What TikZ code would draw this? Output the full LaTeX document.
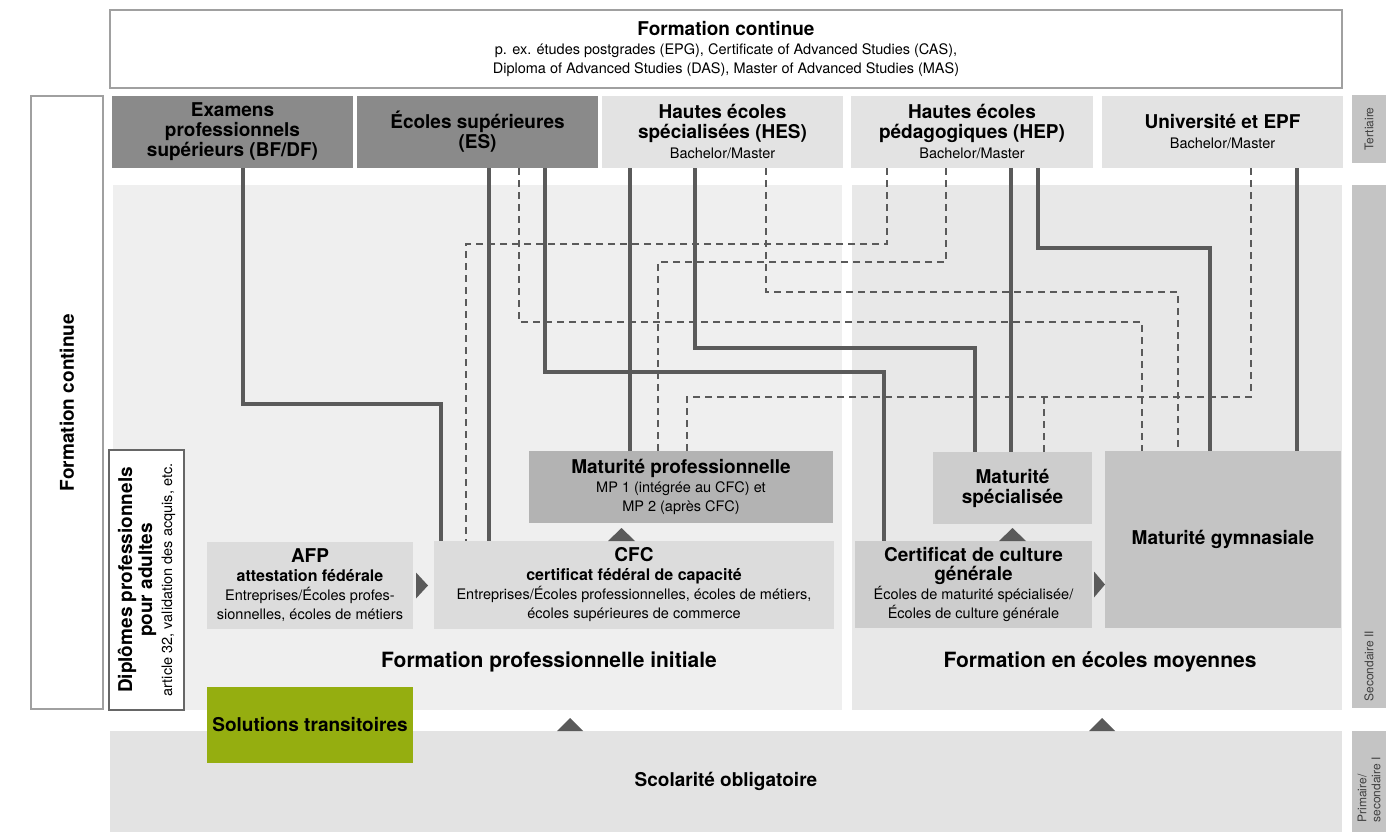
\documentclass[tikz,border=0pt]{standalone}
\usepackage{fontspec}
\setmainfont{TeX Gyre Heros}
\usetikzlibrary{positioning}

\definecolor{darkbox}{HTML}{8A8A8A}
\definecolor{lightbox}{HTML}{E3E3E3}
\definecolor{levelbox}{HTML}{C4C4C4}
\definecolor{leftpanel}{HTML}{EFEFEF}
\definecolor{rightpanel}{HTML}{E8E8E8}
\definecolor{certbox}{HTML}{DCDCDC}
\definecolor{mpbox}{HTML}{B3B3B3}
\definecolor{ccgbox}{HTML}{CDCDCD}
\definecolor{linegray}{HTML}{5A5A5A}
\definecolor{framegray}{HTML}{A0A0A0}
\definecolor{olivebox}{HTML}{95AE10}

\newcommand{\boxtitle}{\fontsize{19}{20}\selectfont\bfseries}
\newcommand{\boxsub}{\fontsize{16}{19}\selectfont\bfseries}
\newcommand{\boxtext}{\fontsize{14.5}{19}\selectfont\mdseries}
\newcommand{\paneltitle}{\fontsize{21}{24}\selectfont\bfseries}
\newcommand{\levelfont}{\fontsize{12}{14}\selectfont}

\begin{document}
\begin{tikzpicture}
    [x=1pt, y=-1pt,
    box/.style={anchor=north west, inner sep=0pt, outer sep=0pt, align=center},
    conn/.style={draw=linegray, line width=4pt},
    dashconn/.style={draw=linegray, line width=1.5pt, dash pattern=on 7pt off 5pt},
    tri/.style={fill=linegray},
    levellabel/.style={rotate=90, font=\levelfont, text=black!75, align=left}]

    \useasboundingbox (0,0) rectangle (1392,832);

    % backgrounds
    \node[box, draw=framegray, line width=1.5pt, fill=white, minimum width=1232, minimum height=78, font=\boxtext] (fc) at (110,10)
    {{\boxtitle Formation continue}\\p. ex. études postgrades (EPG), Certificate of Advanced Studies (CAS),\\Diploma of Advanced Studies (DAS), Master of Advanced Studies (MAS)};
    \node[box, draw=framegray, line width=1.5pt, minimum width=72, minimum height=613] (fcside) at (31,96) {};
    \node[rotate=90, font=\boxtitle] (fcsidelabel) at (fcside.center) {Formation continue};

    \node[box, fill=leftpanel, minimum width=729, minimum height=525] (vocpanel) at (113,185) {};
    \node[box, fill=rightpanel, minimum width=490, minimum height=525] (genpanel) at (852,185) {};

    \node[box, fill=levelbox, minimum width=34, minimum height=68] (tert) at (1352,95) {};
    \node[box, fill=levelbox, minimum width=34, minimum height=523] (sec) at (1352,185) {};
    \node[box, fill=levelbox, minimum width=34, minimum height=101] (prim) at (1352,731) {};
    \node[levellabel] (tertlabel) at (tert.center) {Tertiaire};
    \node[levellabel, anchor=west] (seclabel) at ([yshift=3]sec.south) {Secondaire II};
    \node[levellabel, anchor=west] (primlabel) at ([yshift=6]prim.south) {Primaire/\\secondaire I};

    % tertiaire
    \node[box, fill=darkbox, minimum width=241, minimum height=72, font=\boxtitle] (bfdf) at (112,96) {Examens\\professionnels\\supérieurs (BF/DF)};
    \node[box, fill=darkbox, minimum width=241, minimum height=72, font=\boxtitle] (es) at (357,96) {Écoles supérieures\\(ES)};
    \node[box, fill=lightbox, minimum width=241, minimum height=72, font=\boxtitle] (hes) at (602,96) {Hautes écoles\\spécialisées (HES)\\{\boxtext Bachelor/Master}};
    \node[box, fill=lightbox, minimum width=242, minimum height=72, font=\boxtitle] (hep) at (851,96) {Hautes écoles\\pédagogiques (HEP)\\{\boxtext Bachelor/Master}};
    \node[box, fill=lightbox, minimum width=241, minimum height=72, font=\boxtitle] (uni) at (1102,96) {Université et EPF\\{\boxtext Bachelor/Master}};

    % secondaire II
    \node[box, fill=certbox, minimum width=206, minimum height=87, font=\boxtext] (afp) at (207,542)
    {{\boxtitle AFP}\\{\boxsub attestation fédérale}\\Entreprises/Écoles profes-\\sionnelles, écoles de métiers};
    \node[box, fill=certbox, minimum width=400, minimum height=88, font=\boxtext] (cfc) at (434,541)
    {{\boxtitle CFC}\\{\boxsub certificat fédéral de capacité}\\Entreprises/Écoles professionnelles, écoles de métiers,\\écoles supérieures de commerce};
    \node[box, fill=mpbox, minimum width=304, minimum height=72, font=\boxtext] (mp) at (529,451)
    {{\boxtitle Maturité professionnelle}\\MP 1 (intégrée au CFC) et\\MP 2 (après CFC)};
    \node[box, fill=ccgbox, minimum width=237, minimum height=87, font=\boxtext] (ccg) at (855,541)
    {{\boxtitle Certificat de culture}\\{\boxtitle générale}\\Écoles de maturité spécialisée/\\Écoles de culture générale};
    \node[box, fill=ccgbox, minimum width=159, minimum height=72, font=\boxtitle] (ms) at (933,452) {Maturité\\spécialisée};
    \node[box, fill=levelbox, minimum width=236, minimum height=177, font=\boxtitle] (mg) at (1105,451) {Maturité gymnasiale};

    \node[draw=black!60, line width=2pt, fill=white, rotate=90, inner sep=0pt, minimum width=260, minimum height=75, align=center, font=\boxtitle] (adult) at (146.5,580)
    {Diplômes professionnels\\pour adultes\\{\boxtext article 32, validation des acquis, etc.}};

    \node[font=\paneltitle] (voclabel) at (549,662) {Formation professionnelle initiale};
    \node[font=\paneltitle] (genlabel) at (1100,662) {Formation en écoles moyennes};

    % passages
    \draw[conn] ([xshift=10.5]bfdf.south) -- ++(0,236) -| ([xshift=-193]cfc.north);
    \draw[conn] ([xshift=11.5]es.south) -- ([xshift=-145]cfc.north);
    \draw[conn] ([xshift=67.5]es.south) -- ++(0,204) -| ([xshift=-89.5]ccg.north);
    \draw[conn] ([xshift=-92.5]hes.south) -- ([xshift=-51]mp.north);
    \draw[conn] ([xshift=-27.5]hes.south) -- ++(0,180) -| ([xshift=-37.5]ms.north);
    \draw[conn] ([xshift=39]hep.south) -- ([xshift=-1.5]ms.north);
    \draw[conn] ([xshift=66]hep.south) -- ++(0,80) -| ([xshift=-13]mg.north);
    \draw[conn] ([xshift=74.5]uni.south) -- ([xshift=74]mg.north);

    \draw[dashconn] ([xshift=41.5]es.south) -- ++(0,154) -| ([xshift=-81]mg.north);
    \draw[dashconn] ([xshift=43.5]hes.south) -- ++(0,124) -| ([xshift=-45]mg.north);
    \draw[dashconn] ([xshift=-85]hep.south) -- ++(0,76) -| ([xshift=-168]cfc.north);
    \draw[dashconn] ([xshift=-26]hep.south) -- ++(0,94) -| ([xshift=-23]mp.north);
    \draw[dashconn] ([xshift=28.5]uni.south) -- ++(0,229) -| ([xshift=6]mp.north);
    \draw[dashconn] ([xshift=31.5]ms.north) -- ++(0,-55);

    \fill[tri] ([xshift=3,yshift=13]afp.east) -- ++(12,13) -- ++(-12,13) -- cycle;
    \fill[tri] ([xshift=2,yshift=13]ccg.east) -- ++(11,13) -- ++(-11,13) -- cycle;
    \fill[tri] ([xshift=-26]cfc.north) -- ++(13.5,-13) -- ++(13.5,13) -- cycle;
    \fill[tri] ([xshift=25.5]ccg.north) -- ++(13.5,-13) -- ++(13.5,13) -- cycle;

    % scolarite obligatoire
    \node[box, fill=lightbox, minimum width=1232, minimum height=101, font=\boxtitle] (school) at (110,731) {Scolarité obligatoire};
    \node[box, fill=olivebox, minimum width=206, minimum height=76, font=\boxtitle] (trans) at (207,687) {Solutions transitoires};

    \fill[tri] ([xshift=-169]school.north) -- ++(13,-13) -- ++(13,13) -- cycle;
    \fill[tri] ([xshift=363]school.north) -- ++(13,-13) -- ++(13,13) -- cycle;
\end{tikzpicture}
\end{document}
